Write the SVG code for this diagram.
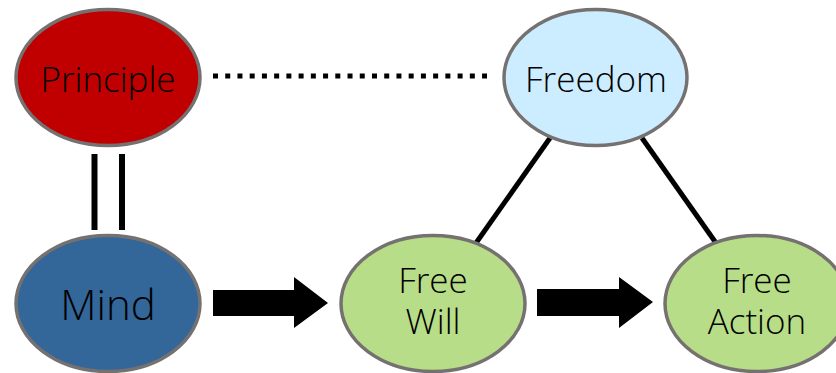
<svg xmlns="http://www.w3.org/2000/svg" width="836" height="373" viewBox="0 0 836 373">
<style>
.n{stroke:#767171;stroke-width:3.5}
.t{font-family:"Open Sans","Noto Sans","Liberation Sans",sans-serif;font-weight:300;fill:#000;text-anchor:middle}
.c{stroke:#000;fill:none}
</style>
<rect width="836" height="373" fill="#fff"/>
<g id="connectors">
<line class="c" x1="213" y1="76" x2="487" y2="76" stroke-width="5" stroke-dasharray="5 7.23"/>
<line class="c" x1="94.5" y1="154" x2="94.5" y2="230" stroke-width="6"/>
<line class="c" x1="122" y1="154" x2="122" y2="230" stroke-width="6"/>
<line class="c" x1="550" y1="138" x2="476" y2="243" stroke-width="5"/>
<line class="c" x1="642" y1="138" x2="716" y2="243" stroke-width="5"/>
<polygon points="213,290 294,290 294,277 328,303 294,328 294,316 213,316" fill="#000"/>
<polygon points="537,289 619,289 619,277 653,302 619,328 619,316 537,316" fill="#000"/>
</g>
<g id="principle">
<ellipse class="n" cx="108" cy="77.5" rx="92" ry="68" fill="#C00000"/>
<text class="t" x="108" y="92" font-size="35">Principle</text>
</g>
<g id="freedom">
<ellipse class="n" cx="595.5" cy="77.5" rx="91.5" ry="68" fill="#CCECFF"/>
<text class="t" x="596" y="92" font-size="35">Freedom</text>
</g>
<g id="mind">
<ellipse class="n" cx="108" cy="303.5" rx="92" ry="68" fill="#336699"/>
<text class="t" x="108" y="320" font-size="42">Mind</text>
</g>
<g id="freewill">
<ellipse class="n" cx="433" cy="303.5" rx="92" ry="68" fill="#B7DD88"/>
<text class="t" font-size="35"><tspan x="433" y="293">Free</tspan><tspan x="433" y="334">Will</tspan></text>
</g>
<g id="freeaction">
<ellipse class="n" cx="757" cy="303.5" rx="92" ry="68" fill="#B7DD88"/>
<text class="t" font-size="35"><tspan x="757" y="293">Free</tspan><tspan x="757" y="334">Action</tspan></text>
</g>
</svg>
